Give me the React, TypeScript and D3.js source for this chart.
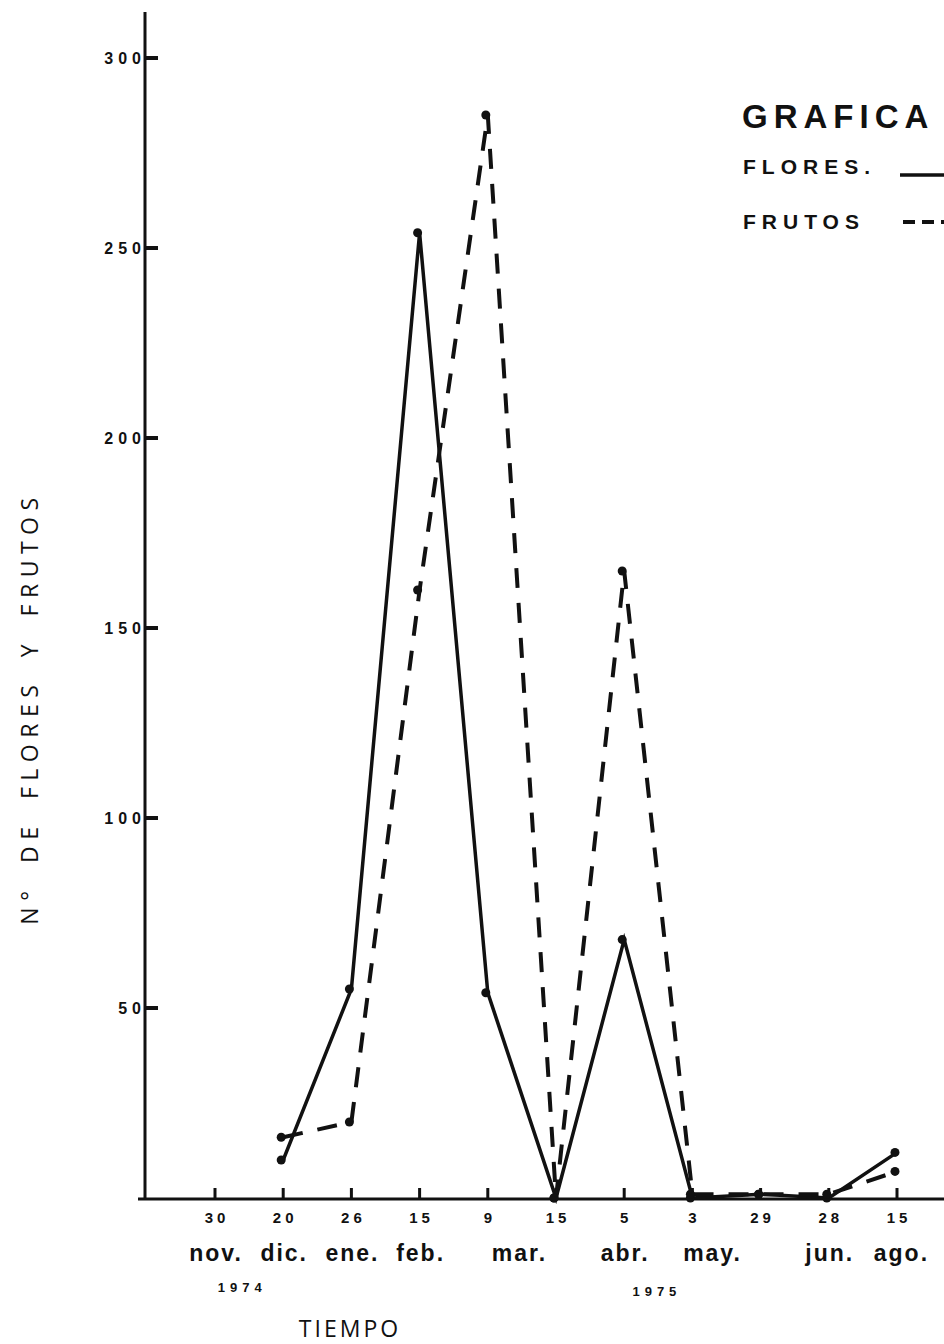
import React from "react";
import * as d3 from "d3";

// fecha de muestreo (día) y mes
const dayLabels = ["30", "20", "26", "15", "9", "15", "5", "3", "29", "28", "15"];
const monthLabels = ["nov.", "dic.", "ene.", "feb.", "mar.", "abr.", "may.", "jun.", "ago."];
const monthAt = [0, 1, 2, 3, 4.45, 6, 7.28, 9, 10.05];
const yearLabels = ["1974", "1975"];
const yearAt = [0.37, 6.45];

// número de flores y frutos por fecha (null = sin dato)
const flores: (number | null)[] = [null, 10, 55, 254, 54, 0, 68, 0, 1, 0, 12];
const frutos: (number | null)[] = [null, 16, 20, 160, 285, 0, 165, 1, 1, 1, 7];

const yTicks = [50, 100, 150, 200, 250, 300];

const W = 944;
const H = 1344;
const axisX = 145;
const baseY = 1198;

const numFont = "'Liberation Sans', Arial, sans-serif";
const labelFont = "'Open Sans', 'DejaVu Sans', sans-serif";
const ink = "#111";

const App: React.FC = () => {
  const x = d3.scaleLinear().domain([0, 10]).range([215, 897]);
  const y = d3.scaleLinear().domain([0, 300]).range([baseY, 58]);

  const line = d3
    .line<number | null>()
    .defined((d) => d != null)
    .x((_, i) => x(i))
    .y((d) => y(d as number));

  const idx = d3.range(dayLabels.length);

  return (
    <svg
      width={W}
      height={H}
      style={{ position: "absolute", left: 0, top: 0, background: "#fff" }}
    >
      <rect width={W} height={H} fill="#fff" />

      {/* eje y */}
      <line x1={axisX} x2={axisX} y1={12} y2={baseY + 1} stroke={ink} strokeWidth={3} />
      {yTicks.map((t) => (
        <g key={t}>
          <line x1={axisX} x2={axisX + 13} y1={y(t)} y2={y(t)} stroke={ink} strokeWidth={4} />
          <text
            x={141 + 5}
            y={y(t) + 6}
            textAnchor="end"
            fontFamily={numFont}
            fontWeight="bold"
            fontSize={16}
            letterSpacing={5}
            fill={ink}
          >
            {t}
          </text>
        </g>
      ))}

      {/* eje x */}
      <line x1={138} x2={W} y1={baseY + 1} y2={baseY + 1} stroke={ink} strokeWidth={3} />
      {idx.map((i) => (
        <g key={i}>
          <line x1={x(i)} x2={x(i)} y1={baseY - 10} y2={baseY} stroke={ink} strokeWidth={3} />
          <text
            x={x(i) + 2}
            y={1223}
            textAnchor="middle"
            fontFamily={numFont}
            fontWeight="bold"
            fontSize={15}
            letterSpacing={4}
            fill={ink}
          >
            {dayLabels[i]}
          </text>
        </g>
      ))}
      {monthLabels.map((m, i) => (
        <text
          key={m}
          x={x(monthAt[i]) + 1}
          y={1261}
          textAnchor="middle"
          fontFamily={numFont}
          fontWeight="bold"
          fontSize={23}
          letterSpacing={2}
          fill={ink}
        >
          {m}
        </text>
      ))}
      {yearLabels.map((yl, i) => (
        <text
          key={yl}
          x={x(yearAt[i]) + 2}
          y={1292 + i * 4}
          textAnchor="middle"
          fontFamily={numFont}
          fontWeight="bold"
          fontSize={13}
          letterSpacing={5}
          fill={ink}
        >
          {yl}
        </text>
      ))}

      {/* títulos de ejes */}
      <text
        x={350}
        y={1337}
        textAnchor="middle"
        fontFamily={labelFont}
        fontSize={23}
        letterSpacing={3}
        fill={ink}
      >
        TIEMPO
      </text>
      <text
        transform="translate(38,708) rotate(-90)"
        textAnchor="middle"
        fontFamily={labelFont}
        fontSize={23}
        letterSpacing={6.5}
        wordSpacing={9}
        fill={ink}
      >
        N° DE FLORES Y FRUTOS
      </text>

      {/* series */}
      <path d={line(flores) ?? ""} fill="none" stroke={ink} strokeWidth={3.5} />
      <path
        d={line(frutos) ?? ""}
        fill="none"
        stroke={ink}
        strokeWidth={4}
        strokeDasharray="20 15"
      />
      {[flores, frutos].map((s, k) =>
        s.map((v, i) =>
          v == null ? null : (
            <circle key={`${k}-${i}`} cx={x(i) - 2} cy={y(v)} r={4.5} fill={ink} />
          )
        )
      )}

      {/* leyenda */}
      <text
        x={742}
        y={128}
        fontFamily={numFont}
        fontWeight="bold"
        fontSize={33}
        letterSpacing={6}
        fill={ink}
      >
        GRAFICA
      </text>
      <text
        x={743}
        y={174}
        fontFamily={numFont}
        fontWeight="bold"
        fontSize={21}
        letterSpacing={6}
        fill={ink}
      >
        FLORES.
      </text>
      <line x1={900} x2={944} y1={175} y2={175} stroke={ink} strokeWidth={3.5} />
      <text
        x={743}
        y={229}
        fontFamily={numFont}
        fontWeight="bold"
        fontSize={21}
        letterSpacing={6}
        fill={ink}
      >
        FRUTOS
      </text>
      <line
        x1={903}
        x2={944}
        y1={222}
        y2={222}
        stroke={ink}
        strokeWidth={4}
        strokeDasharray="12 7"
      />
    </svg>
  );
};

export default App;
